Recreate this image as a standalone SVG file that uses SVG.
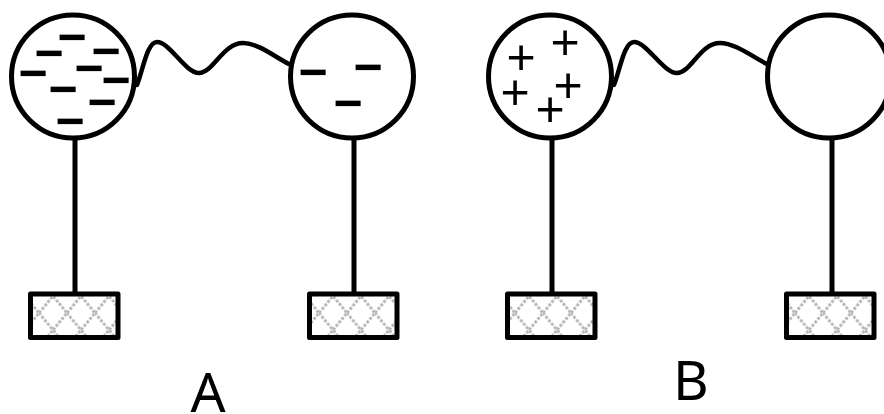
<svg xmlns="http://www.w3.org/2000/svg" width="884" height="414" viewBox="0 0 884 414">
<style>
.ball{fill:#fff;stroke:#000;stroke-width:5}
.stem{fill:none;stroke:#000;stroke-width:5}
.wire{fill:none;stroke:#000;stroke-width:4.5;stroke-linecap:round;stroke-linejoin:round}
.base{fill:url(#hatch);stroke:#000;stroke-width:5;stroke-linejoin:round}
.q{font-family:"Liberation Sans",Arial,sans-serif;font-size:50px;text-anchor:middle;fill:#000}
.m{font-weight:bold}
.lab{font-family:"Noto Sans","Open Sans",sans-serif;font-size:55px;text-anchor:middle;fill:#000}
</style>
<defs>
<pattern id="hatch" patternUnits="userSpaceOnUse" x="39" y="296" width="28" height="34">
<rect width="28" height="34" fill="#fff"/>
<path d="M0 17L14 0L28 17L14 34Z" fill="none" stroke="#bbb" stroke-width="3" stroke-dasharray="3 1.5"/>
</pattern>
</defs>
<g id="connectors">
<path class="stem" d="M75 138V294"/>
<path class="stem" d="M354 138V294"/>
<path class="stem" d="M552 138V294"/>
<path class="stem" d="M832 138V294"/>
<path class="wire" d="M137 85C143 70 147 42 157 42C170 42 185 73 199 73C213 73 223 43 243 43C258 43 275 57 289 64"/>
<path class="wire" d="M614 85C620 70 624 42 634 42C647 42 663 73 677 73C691 73 700 43 720 43C735 43 753 57 767 64"/>
</g>
<g id="ball-a1"><circle class="ball" cx="73" cy="76.5" r="61.5"/>
<text class="q m" x="72" y="54">−</text><text class="q m" x="49" y="70">−</text><text class="q m" x="106" y="68">−</text><text class="q m" x="89" y="85">−</text><text class="q m" x="33" y="90">−</text><text class="q m" x="116" y="97">−</text><text class="q m" x="63" y="106">−</text><text class="q m" x="102" y="119">−</text><text class="q m" x="70" y="138">−</text>
</g>
<g id="ball-a2"><circle class="ball" cx="352" cy="76.5" r="61.5"/>
<text class="q m" x="313" y="89">−</text><text class="q m" x="368" y="84">−</text><text class="q m" x="348" y="120">−</text>
</g>
<g id="ball-b1"><circle class="ball" cx="550" cy="76.5" r="61.5"/>
<text class="q" x="565" y="59">+</text><text class="q" x="521" y="74">+</text><text class="q" x="568" y="102">+</text><text class="q" x="515" y="109">+</text><text class="q" x="550" y="126">+</text>
</g>
<g id="ball-b2"><circle class="ball" cx="829" cy="76.5" r="61.5"/></g>
<g id="base-a1"><rect class="base" x="30.5" y="294" width="87.5" height="43.5"/></g>
<g id="base-a2"><rect class="base" x="309.5" y="294" width="87.5" height="43.5"/></g>
<g id="base-b1"><rect class="base" x="507.5" y="294" width="87.5" height="43.5"/></g>
<g id="base-b2"><rect class="base" x="786.5" y="294" width="87.5" height="43.5"/></g>
<g id="label-a"><text class="lab" x="208" y="412">A</text></g>
<g id="label-b"><text class="lab" x="691" y="400">B</text></g>
</svg>
